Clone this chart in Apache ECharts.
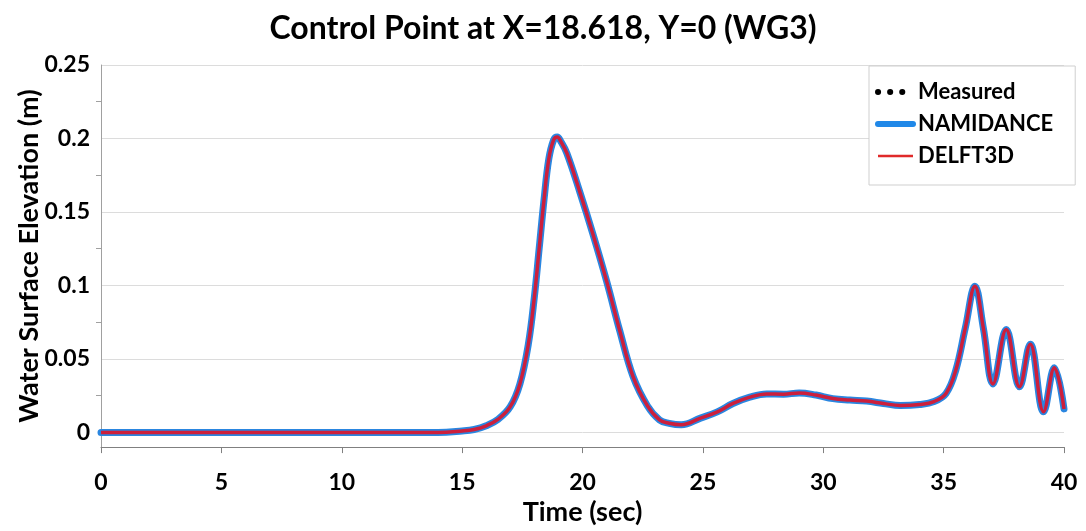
<!DOCTYPE html>
<html>
<head>
<meta charset="utf-8">
<script src="https://cdn.jsdelivr.net/npm/echarts@6/dist/echarts.min.js"></script>
<style>
  html, body { margin: 0; padding: 0; background: #fff; }
  #chart { width: 1086px; height: 531px; }
</style>
</head>
<body>
<div id="chart"></div>
<script>
// time (sec) and water surface elevation (m)
var timeSec = [0, 5, 10, 14, 15, 15.5, 16, 16.5, 17, 17.4, 17.75, 18, 18.2, 18.4, 18.6, 18.8, 18.95, 19.1, 19.35,
  19.9, 20.45, 21, 21.55, 22.1, 22.7, 23.2, 23.6, 24.1, 24.9, 25.6, 26.25, 26.95, 27.65, 28.35, 29, 29.7,
  30.4, 31.1, 31.8, 32.5, 33.2, 34, 34.6, 35.1, 35.5, 35.9, 36.3, 36.65, 37.05, 37.6, 38.15, 38.6, 39.15, 39.6, 40];
var elevation = [0, 0, 0, 0, 0.001, 0.002, 0.0045, 0.009, 0.0175, 0.033, 0.06, 0.092, 0.125, 0.158, 0.186, 0.199, 0.201, 0.198, 0.19,
  0.163, 0.134, 0.103, 0.069, 0.038, 0.018, 0.0085, 0.0062, 0.0052, 0.0097, 0.014, 0.0197, 0.024, 0.0262, 0.026, 0.0268, 0.0254,
  0.023, 0.022, 0.0213, 0.0197, 0.0183, 0.019, 0.021, 0.0265, 0.042, 0.071, 0.0995, 0.071, 0.033, 0.070, 0.031, 0.060, 0.014, 0.044, 0.016];
// the three curves lie on top of each other in the picture
var measured = elevation;
var namidance = elevation;
var delft3d = elevation;

var yLabels = [0, 0.05, 0.1, 0.15, 0.2, 0.25];
var yMinorTicks = [0.025, 0.075, 0.125, 0.175, 0.225];

function pairs(xs, ys) {
  var out = [];
  for (var i = 0; i < xs.length; i++) out.push([xs[i], ys[i]]);
  return out;
}

var font = 'Lato';
var blue = '#2a86e0';
var red = '#cc1f3c';
var chart = echarts.init(document.getElementById('chart'));

var option = {
  animation: false,
  title: {
    text: 'Control Point at X=18.618, Y=0 (WG3)',
    left: 'center',
    top: 8,
    textStyle: { fontFamily: font, fontWeight: 'bold', fontSize: 32, color: '#000' }
  },
  legend: {
    orient: 'vertical',
    left: 869,
    top: 66,
    padding: [15, 22, 18, 6],
    itemGap: 10,
    itemWidth: 35,
    itemHeight: 14,
    borderColor: '#cfcfcf',
    borderWidth: 1,
    backgroundColor: '#fff',
    itemStyle: { opacity: 0 },
    textStyle: { fontFamily: font, fontWeight: 'bold', fontSize: 22, color: '#000' },
    data: [
      { name: 'Measured', lineStyle: { color: '#000', width: 6, type: [0.1, 12], cap: 'round' } },
      { name: 'NAMIDANCE', lineStyle: { color: '#2088e8', width: 6, cap: 'round' } },
      { name: 'DELFT3D', lineStyle: { color: '#e02a2a', width: 2.5 } }
    ]
  },
  grid: { left: 101, right: 22, top: 65, bottom: 80 },
  xAxis: {
    type: 'value',
    min: 0,
    max: 40,
    interval: 5,
    name: 'Time (sec)',
    nameLocation: 'middle',
    nameGap: 50,
    nameTextStyle: { fontFamily: font, fontWeight: 'bold', fontSize: 27, color: '#000' },
    axisLine: { onZero: false, lineStyle: { color: '#808080', width: 1 } },
    axisTick: { show: true, length: 6, lineStyle: { color: '#808080' } },
    axisLabel: { margin: 24, fontFamily: font, fontWeight: 'bold', fontSize: 23, color: '#000' },
    splitLine: { show: false }
  },
  yAxis: [{
    type: 'value',
    min: -0.01,
    max: 0.25,
    name: 'Water Surface Elevation (m)',
    nameLocation: 'middle',
    nameGap: 58,
    nameMoveOverlap: false,
    nameTextStyle: { fontFamily: font, fontWeight: 'bold', fontSize: 27, color: '#000' },
    axisLine: { show: true, lineStyle: { color: '#a0a0a0', width: 1 } },
    axisTick: { show: false, customValues: yLabels },
    axisLabel: { customValues: yLabels, margin: 11, fontFamily: font, fontWeight: 'bold', fontSize: 23, color: '#000' },
    splitLine: { show: true, lineStyle: { color: '#dcdcdc', width: 1 } }
  }, {
    type: 'value',
    min: -0.01,
    max: 0.25,
    position: 'left',
    axisLine: { show: false },
    axisLabel: { show: false },
    splitLine: { show: false },
    axisTick: { show: true, customValues: yMinorTicks, length: 5, lineStyle: { color: '#a0a0a0' } }
  }],
  series: [{
    name: 'Measured',
    type: 'line',
    data: pairs(timeSec, measured),
    smooth: 0.4,
    symbol: 'none',
    z: 1,
    lineStyle: { color: '#000', width: 3, type: 'dotted', cap: 'round' },
    itemStyle: { color: '#000' }
  }, {
    name: 'NAMIDANCE',
    type: 'line',
    data: pairs(timeSec, namidance),
    smooth: 0.4,
    symbol: 'none',
    z: 2,
    lineStyle: { color: blue, width: 7, cap: 'round' },
    itemStyle: { color: blue }
  }, {
    name: 'DELFT3D',
    type: 'line',
    data: pairs(timeSec, delft3d),
    smooth: 0.4,
    symbol: 'none',
    z: 3,
    lineStyle: { color: red, width: 3.5 },
    itemStyle: { color: red }
  }]
};

chart.setOption(option);
</script>
</body>
</html>
